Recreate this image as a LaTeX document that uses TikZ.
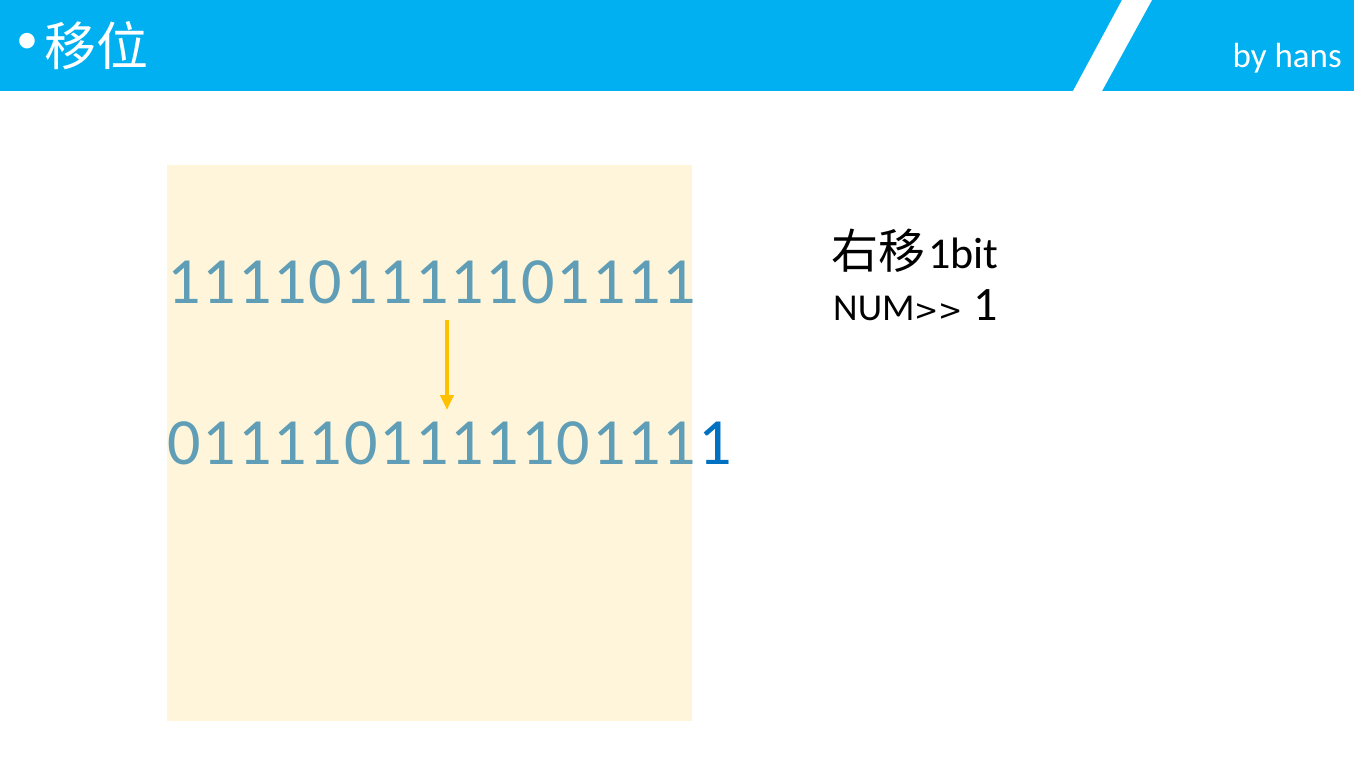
\documentclass[tikz,border=0pt]{standalone}
\usepackage{fontspec}
\setmainfont{Carlito}
\newfontfamily\cjk{Noto Sans CJK SC}
\newfontfamily\symfont{DejaVu Sans}
\usetikzlibrary{arrows.meta}

\definecolor{headblue}{RGB}{0,176,240}
\definecolor{paper}{RGB}{255,245,218}
\definecolor{bitcol}{RGB}{95,158,182}
\definecolor{outbit}{RGB}{0,112,192}
\definecolor{shiftcol}{RGB}{255,192,0}

\begin{document}
\begin{tikzpicture}[x=1pt, y=-1pt,
	bit/.style={anchor=base, inner sep=0pt, text=bitcol, font=\fontsize{66}{70}\selectfont},
	plain/.style={anchor=base west, inner sep=0pt},
	shiftarrow/.style={draw=shiftcol, line width=4pt, -{Triangle[length=15pt, width=13pt]}}]
	% Page, header bar and stripe:

	\useasboundingbox (0,0) rectangle (1354,762);
	\fill[white] (0,0) rectangle (1354,762);
	\fill[headblue] (0,0) rectangle (1354,91);
	\fill[white] (1122,0) -- (1152,0) -- (1102,91) -- (1073,91) -- cycle;
	\node[inner sep=0pt, text=white, font=\fontsize{44}{44}\selectfont] (dot) at (27,43) {•};
	\node[anchor=west, inner sep=0pt, text=white, font=\cjk\fontsize{52}{52}\selectfont] (title) at (44,46) {移位};
	\node[anchor=base east, inner sep=0pt, text=white, font=\fontsize{35}{35}\selectfont] (author) at (1342,68) {by hans};

	% Shift box and the two rows of bits:

	\fill[paper] (167,165) rectangle (692,721);
	\foreach \d [count=\i from 0] in {1,1,1,1,0,1,1,1,1,1,0,1,1,1,1}
		\node[bit] (top\i) at (184+35.4*\i, 303) {\d};
	\foreach \d [count=\i from 0] in {0,1,1,1,1,0,1,1,1,1,1,0,1,1,1}
		\node[bit] (low\i) at (184+35.4*\i, 464) {\d};
	\node[bit, text=outbit] (low15) at (184+35.4*15, 464) {1};
	\coordinate (from) at (447,320);
	\coordinate (to) at (447,410);
	\draw[shiftarrow] (from) -- (to);

	% Explanation on the right:

	\node[plain, font=\fontsize{44}{44}\selectfont] (rule) at (831,268) {{\cjk\fontsize{47}{47}\selectfont 右移}\kern3pt 1bit};
	\node[plain, font=\fontsize{38}{38}\selectfont] (expr) at (833,320) {NUM{\symfont\fontsize{29}{29}\selectfont{>}{>}}\kern10pt{\fontsize{48}{48}\selectfont 1}};
\end{tikzpicture}
\end{document}
